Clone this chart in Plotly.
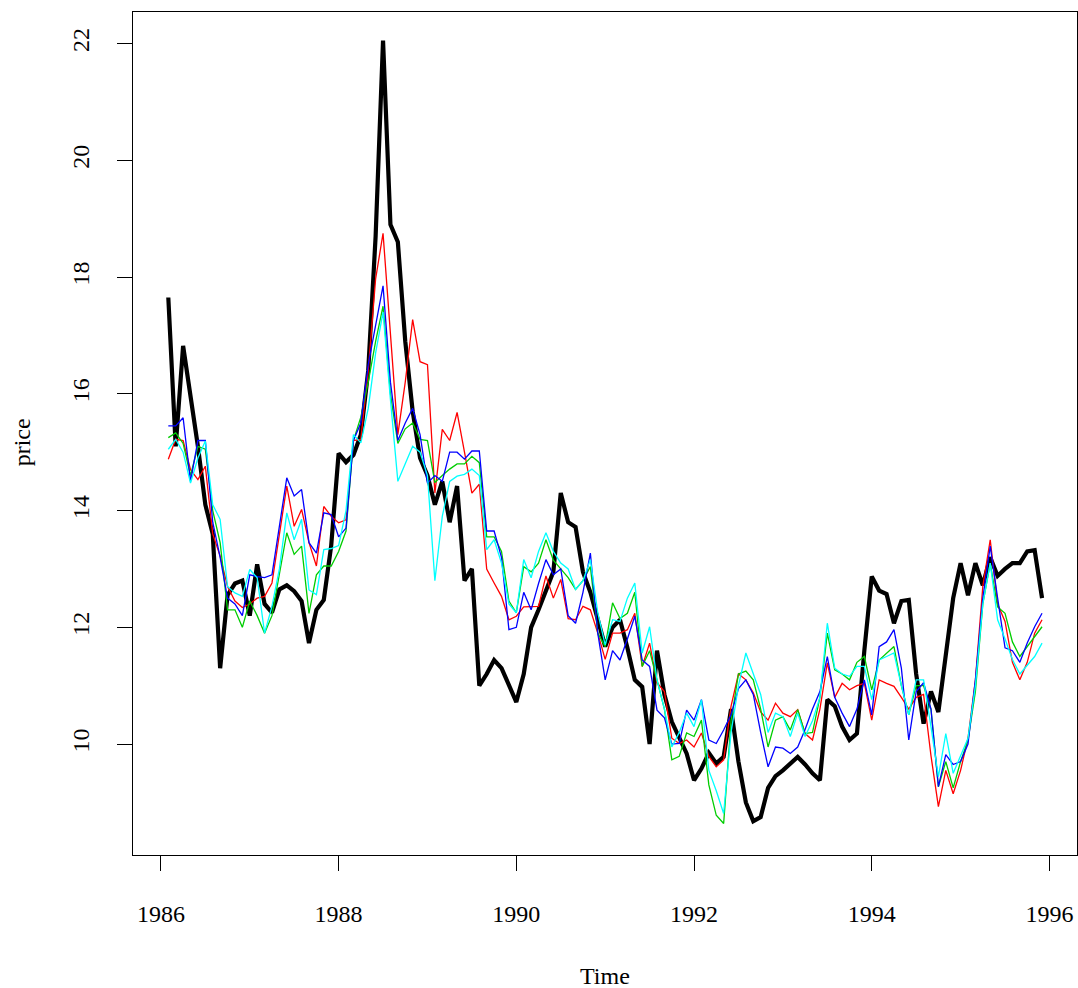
import plotly.graph_objects as go

# Monthly series, Feb 1986 - Dec 1995
start_year, start_month, n_months = 1986, 2, 119
time = [start_year + (start_month - 1 + k) / 12 for k in range(n_months)]

price = [
    17.65, 15.1, 16.82, 16.0, 15.1, 14.1, 13.6, 11.3, 12.55, 12.75,
    12.8, 12.2, 13.08, 12.4, 12.25, 12.65, 12.72, 12.62, 12.45, 11.73,
    12.3, 12.47, 13.4, 14.98, 14.83, 14.95, 15.3, 16.4, 18.7, 22.05,
    18.9, 18.6, 16.9, 15.7, 14.9, 14.6, 14.1, 14.5, 13.8, 14.42,
    12.8, 13.0, 11.0, 11.2, 11.44, 11.3, 11.0, 10.72, 11.2, 12.0,
    12.3, 12.65, 12.95, 14.3, 13.8, 13.72, 12.95, 12.6, 12.15, 11.67,
    12.0, 12.13, 11.65, 11.1, 10.98, 10.0, 11.6, 10.85, 10.38, 10.1,
    9.84, 9.38, 9.58, 9.85, 9.67, 9.78, 10.6, 9.7, 9.0, 8.68,
    8.75, 9.25, 9.45, 9.55, 9.67, 9.78, 9.65, 9.5, 9.38, 10.76,
    10.65, 10.3, 10.07, 10.18, 11.6, 12.87, 12.63, 12.57, 12.07, 12.45,
    12.47, 11.2, 10.35, 10.9, 10.55, 11.6, 12.5, 13.1, 12.55, 13.1,
    12.72, 13.2, 12.88, 13.0, 13.1, 13.1, 13.3, 13.32, 12.5,
]

fc_red = [
    14.88, 15.22, 15.2, 14.7, 14.53, 14.76, 13.6, 13.22, 12.7, 12.45,
    12.34, 12.4, 12.5, 12.53, 12.76, 13.6, 14.42, 13.73, 14.02, 13.45,
    13.05, 14.07, 13.9, 13.79, 13.84, 15.2, 15.22, 16.4, 17.97, 18.75,
    17.0, 15.3, 16.2, 17.27, 16.55, 16.5, 14.3, 15.39, 15.2, 15.68,
    15.0, 14.3, 14.45, 13.0, 12.76, 12.53, 12.13, 12.19, 12.35, 12.35,
    12.36, 12.88, 12.5, 12.82, 12.15, 12.13, 12.36, 12.3, 11.9, 11.45,
    11.9, 11.9, 11.96, 12.24, 11.33, 11.73, 11.05, 10.9, 10.1, 10.01,
    10.07, 9.95, 10.19, 9.79, 9.61, 9.73, 10.65, 11.2, 11.1, 10.88,
    10.55, 10.41, 10.7, 10.53, 10.47, 10.59, 10.18, 10.07, 10.6, 11.39,
    10.8, 11.04, 10.93, 11.0, 11.04, 10.41, 11.1, 11.04, 10.99, 10.8,
    10.6, 10.8, 10.85, 9.8, 8.93, 9.55, 9.15, 9.55, 10.1, 11.1,
    12.7, 13.5, 12.4, 12.1, 11.4, 11.1, 11.4, 11.9, 12.13,
]

fc_green = [
    15.25, 15.33, 15.15, 14.6, 15.1, 15.05, 14.0, 13.45, 12.3, 12.3,
    12.0, 12.45, 12.2, 11.9, 12.2, 12.93, 13.62, 13.25, 13.39, 12.24,
    12.9, 13.05, 13.05, 13.3, 13.65, 15.2, 15.6, 16.2, 16.9, 17.5,
    16.0, 15.15, 15.4, 15.5, 15.22, 15.2, 14.48, 14.6, 14.71, 14.8,
    14.8, 14.93, 14.82, 13.55, 13.55, 13.3, 12.45, 12.25, 13.04, 12.95,
    13.1, 13.5, 13.15, 13.0, 12.85, 12.65, 12.8, 13.04, 11.9, 11.67,
    12.42, 12.15, 12.24, 12.6, 11.33, 11.6, 11.1, 10.6, 9.73, 9.79,
    10.19, 10.13, 10.41, 9.3, 8.78, 8.64, 10.4, 11.2, 11.25, 11.1,
    10.6, 9.95, 10.41, 10.47, 10.24, 10.59, 10.18, 10.2, 10.8, 11.9,
    11.27, 11.2, 11.1, 11.4, 11.5, 10.93, 11.44, 11.55, 11.67, 11.0,
    10.5, 11.0, 11.0, 10.6, 9.27, 9.7, 9.25, 9.7, 10.07, 10.9,
    12.4, 13.1, 12.35, 12.24, 11.75, 11.5, 11.67, 11.85, 12.01,
]

fc_blue = [
    15.45, 15.45, 15.59, 14.5, 15.2, 15.2, 13.8, 13.2, 12.5, 12.4,
    12.2, 12.9, 12.87, 12.85, 12.9, 13.7, 14.56, 14.25, 14.36, 13.45,
    13.27, 13.96, 13.93, 13.55, 13.7, 15.2, 15.5, 16.5, 17.2, 17.85,
    16.2, 15.2, 15.5, 15.75, 15.3, 14.47, 14.6, 14.5, 15.0, 15.0,
    14.88, 15.02, 15.02, 13.65, 13.65, 13.2, 11.96, 12.0, 12.6, 12.3,
    12.75, 13.16, 12.9, 13.0, 12.2, 12.07, 12.6, 13.27, 11.9, 11.1,
    11.6, 11.44, 11.8, 12.19, 11.44, 11.33, 10.58, 10.45, 10.0, 10.01,
    10.58, 10.41, 10.76, 10.07, 10.01, 10.24, 10.5, 10.95, 11.1, 10.85,
    10.2, 9.61, 9.95, 9.93, 9.84, 9.95, 10.25, 10.6, 10.9, 11.5,
    10.8, 10.53, 10.3, 10.6, 11.1, 10.5, 11.67, 11.75, 11.96, 11.3,
    10.07, 10.9, 11.05, 10.6, 9.27, 9.82, 9.65, 9.7, 10.0, 11.1,
    12.5, 13.39, 12.5, 11.65, 11.6, 11.4, 11.73, 12.01, 12.24,
]

fc_cyan = [
    15.05, 15.22, 15.0, 14.47, 14.9, 15.19, 14.1, 13.85, 12.7, 12.59,
    12.53, 12.99, 12.85, 11.9, 12.36, 13.0, 13.96, 13.5, 13.85, 12.64,
    12.56, 13.33, 13.35, 13.4, 14.0, 15.3, 15.16, 15.75, 16.7, 17.4,
    15.9, 14.5, 14.8, 15.1, 15.0, 14.6, 12.8, 13.9, 14.5, 14.59,
    14.62, 14.71, 14.6, 13.33, 13.5, 13.1, 12.4, 12.25, 13.16, 12.85,
    13.3, 13.62, 13.3, 13.1, 13.0, 12.65, 12.8, 13.16, 12.25, 11.7,
    12.13, 12.1, 12.5, 12.76, 11.56, 12.01, 11.1, 10.6, 9.95, 10.2,
    10.53, 10.3, 10.76, 9.55, 9.2, 8.81, 10.2, 11.0, 11.56, 11.2,
    10.85, 10.2, 10.53, 10.47, 10.13, 10.53, 10.13, 10.4, 10.8, 12.07,
    11.3, 11.2, 11.16, 11.33, 11.33, 10.76, 11.44, 11.5, 11.56, 11.0,
    10.5, 11.1, 11.1, 10.3, 9.44, 10.18, 9.5, 9.8, 10.1, 11.0,
    12.4, 13.1, 12.13, 11.8, 11.45, 11.2, 11.35, 11.5, 11.73,
]

x_ticks = [1986, 1988, 1990, 1992, 1994, 1996]
y_ticks = [10, 12, 14, 16, 18, 20, 22]

font_family = "Liberation Serif"

fig = go.Figure()
fig.add_trace(go.Scatter(x=time, y=price, mode="lines",
                         line=dict(color="black", width=4.2), name="price"))
for ys, col in [(fc_red, "#FF0000"), (fc_green, "#00CD00"),
                (fc_blue, "#0000FF"), (fc_cyan, "#00FFFF")]:
    fig.add_trace(go.Scatter(x=time, y=ys, mode="lines",
                             line=dict(color=col, width=1.3)))

fig.update_layout(
    width=1078, height=988,
    margin=dict(l=133, r=1, t=12, b=133),
    paper_bgcolor="white", plot_bgcolor="white",
    showlegend=False,
    font=dict(family=font_family, size=24, color="black"),
)
fig.update_xaxes(
    range=[1985.686, 1996.31], tickvals=x_ticks, ticktext=[str(v) for v in x_ticks],
    showgrid=False, zeroline=False, showline=True, linecolor="black", linewidth=1.3,
    mirror=True, ticks="outside", ticklen=15, tickcolor="black", tickwidth=1,
    ticklabelstandoff=22, tickfont=dict(size=24),
)
fig.update_yaxes(
    range=[8.10, 22.54], tickvals=y_ticks, ticktext=[str(v) for v in y_ticks],
    showgrid=False, zeroline=False, showline=True, linecolor="black", linewidth=1.3,
    mirror=True, ticks="outside", ticklen=15, tickcolor="black", tickwidth=1,
    tickangle=-90, ticklabelstandoff=18, tickfont=dict(size=24),
)
fig.add_annotation(text="Time", xref="paper", yref="paper", x=0.5, y=-0.1435,
                   showarrow=False, xanchor="center", yanchor="middle",
                   font=dict(size=24))
fig.add_annotation(text="price", xref="paper", yref="paper", x=-0.1172, y=0.49,
                   showarrow=False, xanchor="center", yanchor="middle",
                   textangle=-90, font=dict(size=24))

fig.write_html("out.html")
